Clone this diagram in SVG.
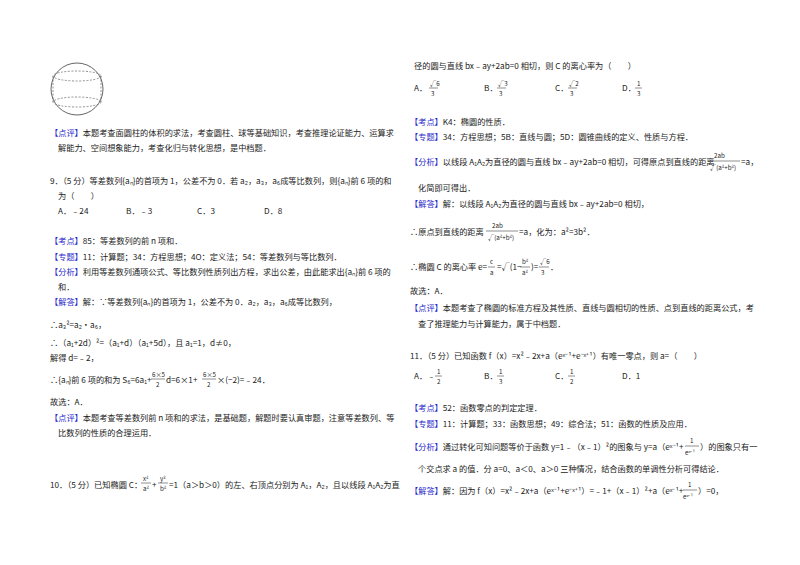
<svg xmlns="http://www.w3.org/2000/svg" width="800" height="565" viewBox="0 0 800 565">
<style>
text{font-family:"Noto Sans CJK SC","Liberation Sans",sans-serif;font-size:8.2px;fill:#222}
.b{fill:#2a2acc}
.s{font-size:6.2px}
.d{fill:none;stroke:#666;stroke-width:0.7;stroke-dasharray:2,1.5}
.l{stroke:#444;stroke-width:0.6}
</style>
<rect width="800" height="565" fill="#fff"/>
<g id="sphere">
<circle cx="77" cy="89" r="26" fill="none" stroke="#555" stroke-width="0.9"/>
<ellipse cx="77" cy="76" rx="24" ry="5" class="d"/>
<ellipse cx="77" cy="102" rx="24" ry="5" class="d"/>
<line x1="53" y1="76" x2="53" y2="102" class="d"/>
<line x1="101" y1="76" x2="101" y2="102" class="d"/>
</g>
<g id="left">
<text x="50" y="136"><tspan class="b">【点评】</tspan>本题考查面圆柱的体积的求法，考查圆柱、球等基础知识，考查推理论证能力、运算求</text>
<text x="58" y="151">解能力、空间想象能力，考查化归与转化思想，是中档题．</text>
<text x="50" y="184">9．（5 分）等差数列{aₙ}的首项为 1，公差不为 0．若 a₂，a₃，a₆成等比数列，则{aₙ}前 6 项的和</text>
<text x="58" y="199">为（　　）</text>
<text x="58" y="214">A．﹣24</text><text x="126" y="214">B．﹣3</text><text x="197" y="214">C．3</text><text x="264" y="214">D．8</text>
<text x="50" y="244"><tspan class="b">【考点】</tspan>85：等差数列的前 n 项和．</text>
<text x="50" y="260"><tspan class="b">【专题】</tspan>11：计算题；34：方程思想；4O：定义法；54：等差数列与等比数列．</text>
<text x="50" y="275"><tspan class="b">【分析】</tspan>利用等差数列通项公式、等比数列性质列出方程，求出公差，由此能求出{aₙ}前 6 项的</text>
<text x="58" y="290">和．</text>
<text x="50" y="305"><tspan class="b">【解答】</tspan>解：∵等差数列{aₙ}的首项为 1，公差不为 0．a₂，a₃，a₆成等比数列，</text>
<text x="50" y="328">∴a₃²=a₂•a₆，</text>
<text x="50" y="346">∴（a₁+2d）²=（a₁+d）（a₁+5d），且 a₁=1，d≠0，</text>
<text x="50" y="361">解得 d=﹣2，</text>
<text x="50" y="383">∴{aₙ}前 6 项的和为 S₆=6a₁+</text>
<text x="152" y="377" class="s">6×5</text><line x1="151" y1="379" x2="165" y2="379" class="l"/><text x="156" y="387" class="s">2</text>
<text x="166" y="383">d=6×1+</text>
<text x="203" y="377" class="s">6×5</text><line x1="202" y1="379" x2="216" y2="379" class="l"/><text x="207" y="387" class="s">2</text>
<text x="217" y="383">×(−2)=﹣24．</text>
<text x="50" y="405">故选：A．</text>
<text x="50" y="421"><tspan class="b">【点评】</tspan>本题考查等差数列前 n 项和的求法，是基础题，解题时要认真审题，注意等差数列、等</text>
<text x="58" y="436">比数列的性质的合理运用．</text>
<text x="50" y="488">10．（5 分）已知椭圆 C：</text>
<text x="143" y="481" class="s">x²</text><line x1="141" y1="483" x2="151" y2="483" class="l"/><text x="143" y="491" class="s">a²</text>
<text x="152" y="488">+</text>
<text x="160" y="481" class="s">y²</text><line x1="158" y1="483" x2="168" y2="483" class="l"/><text x="160" y="491" class="s">b²</text>
<text x="169" y="488">=1（a＞b＞0）的左、右顶点分别为 A₁，A₂，且以线段 A₁A₂为直</text>
</g>
<g id="right">
<text x="414" y="69">径的圆与直线 bx﹣ay+2ab=0 相切，则 C 的离心率为（　　）</text>
<text x="414" y="91">A．</text><text x="430" y="86" class="s">√6</text><line x1="429" y1="88" x2="438" y2="88" class="l"/><text x="431" y="96" class="s">3</text>
<text x="484" y="91">B．</text><text x="498" y="86" class="s">√3</text><line x1="497" y1="88" x2="506" y2="88" class="l"/><text x="499" y="96" class="s">3</text>
<text x="555" y="91">C．</text><text x="569" y="86" class="s">√2</text><line x1="568" y1="88" x2="577" y2="88" class="l"/><text x="570" y="96" class="s">3</text>
<text x="622" y="91">D．</text><text x="637" y="86" class="s">1</text><line x1="635" y1="88" x2="642" y2="88" class="l"/><text x="637" y="96" class="s">3</text>
<text x="410" y="125"><tspan class="b">【考点】</tspan>K4：椭圆的性质．</text>
<text x="410" y="140"><tspan class="b">【专题】</tspan>34：方程思想；5B：直线与圆；5D：圆锥曲线的定义、性质与方程．</text>
<text x="410" y="165"><tspan class="b">【分析】</tspan>以线段 A₁A₂为直径的圆与直线 bx﹣ay+2ab=0 相切，可得原点到直线的距离</text>
<text x="714" y="158" class="s">2ab</text><line x1="708" y1="161" x2="740" y2="161" class="l"/><text x="710" y="170" class="s">√(a²+b²)</text>
<text x="741" y="165">=a，</text>
<text x="418" y="191">化简即可得出．</text>
<text x="410" y="207"><tspan class="b">【解答】</tspan>解：以线段 A₁A₂为直径的圆与直线 bx﹣ay+2ab=0 相切，</text>
<text x="410" y="235">∴原点到直线的距离</text>
<text x="492" y="228" class="s">2ab</text><line x1="486" y1="231" x2="518" y2="231" class="l"/><text x="488" y="240" class="s">√(a²+b²)</text>
<text x="519" y="235">=a，化为：a²=3b²．</text>
<text x="410" y="270">∴椭圆 C 的离心率 e=</text>
<text x="490" y="264" class="s">c</text><line x1="488" y1="267" x2="495" y2="267" class="l"/><text x="490" y="275" class="s">a</text>
<text x="497" y="270">=√(1−</text>
<text x="522" y="264" class="s">b²</text><line x1="520" y1="267" x2="530" y2="267" class="l"/><text x="522" y="275" class="s">a²</text>
<text x="531" y="270">)=</text>
<text x="540" y="264" class="s">√6</text><line x1="539" y1="267" x2="549" y2="267" class="l"/><text x="541" y="275" class="s">3</text>
<text x="550" y="270">．</text>
<text x="410" y="294">故选：A．</text>
<text x="410" y="311"><tspan class="b">【点评】</tspan>本题考查了椭圆的标准方程及其性质、直线与圆相切的性质、点到直线的距离公式，考</text>
<text x="418" y="327">查了推理能力与计算能力，属于中档题．</text>
<text x="410" y="359">11．（5 分）已知函数 f（x）=x²﹣2x+a（eˣ⁻¹+e⁻ˣ⁺¹）有唯一零点，则 a=（　　）</text>
<text x="414" y="379">A．﹣</text><text x="437" y="374" class="s">1</text><line x1="435" y1="376" x2="442" y2="376" class="l"/><text x="437" y="384" class="s">2</text>
<text x="484" y="379">B．</text><text x="499" y="374" class="s">1</text><line x1="497" y1="376" x2="504" y2="376" class="l"/><text x="499" y="384" class="s">3</text>
<text x="555" y="379">C．</text><text x="570" y="374" class="s">1</text><line x1="568" y1="376" x2="575" y2="376" class="l"/><text x="570" y="384" class="s">2</text>
<text x="622" y="379">D．1</text>
<text x="410" y="411"><tspan class="b">【考点】</tspan>52：函数零点的判定定理．</text>
<text x="410" y="427"><tspan class="b">【专题】</tspan>11：计算题；33：函数思想；49：综合法；51：函数的性质及应用．</text>
<text x="410" y="450"><tspan class="b">【分析】</tspan>通过转化可知问题等价于函数 y=1﹣（x﹣1）²的图象与 y=a（eˣ⁻¹+</text>
<text x="690" y="443" class="s">1</text><line x1="685" y1="446" x2="699" y2="446" class="l"/><text x="685" y="455" class="s">eˣ⁻¹</text>
<text x="700" y="450">）的图象只有一</text>
<text x="418" y="472">个交点求 a 的值．分 a=0、a＜0、a＞0 三种情况，结合函数的单调性分析可得结论．</text>
<text x="410" y="494"><tspan class="b">【解答】</tspan>解：因为 f（x）=x²﹣2x+a（eˣ⁻¹+e⁻ˣ⁺¹）=﹣1+（x﹣1）²+a（eˣ⁻¹+</text>
<text x="688" y="487" class="s">1</text><line x1="683" y1="490" x2="697" y2="490" class="l"/><text x="683" y="499" class="s">eˣ⁻¹</text>
<text x="698" y="494">）=0，</text>
</g>
</svg>
